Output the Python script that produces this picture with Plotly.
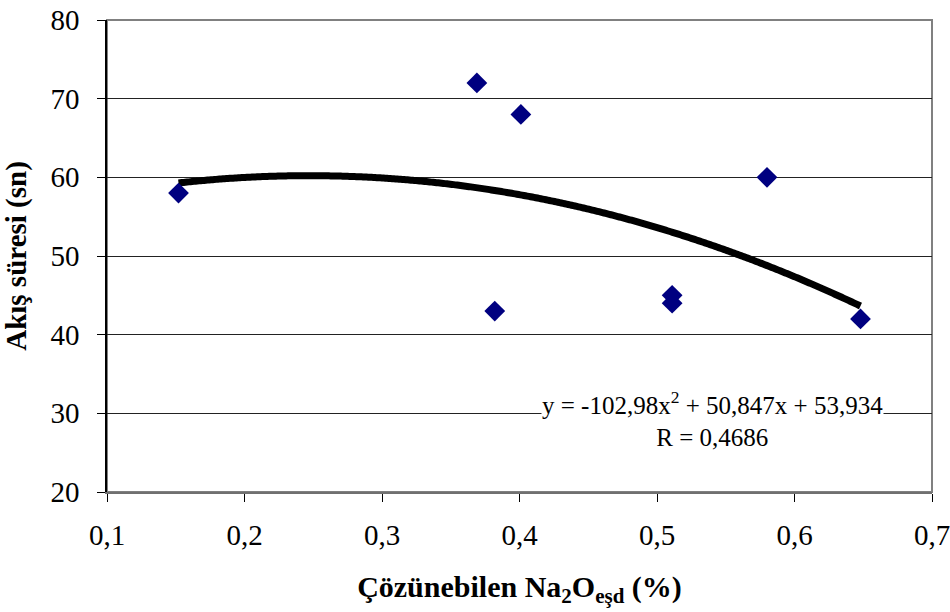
import numpy as np
import plotly.graph_objects as go

# Measured samples: soluble Na2O equivalent (%) vs. flow time (s)
na2o_esd = [0.152, 0.369, 0.401, 0.382, 0.511, 0.511, 0.580, 0.648]
akis_suresi = [58, 72, 68, 43, 45, 44, 60, 42]

# Second-order trendline coefficients and correlation
coef_a, coef_b, coef_c = -102.98, 50.847, 53.934
r_value = "0,4686"

x_ticks = [0.1, 0.2, 0.3, 0.4, 0.5, 0.6, 0.7]
x_tick_text = ["0,1", "0,2", "0,3", "0,4", "0,5", "0,6", "0,7"]
y_ticks = [20, 30, 40, 50, 60, 70, 80]

font_family = "Liberation Serif, Times New Roman, serif"

xs = np.linspace(min(na2o_esd), max(na2o_esd), 400)
ys = coef_a * xs**2 + coef_b * xs + coef_c

fig = go.Figure()
fig.add_trace(go.Scatter(
    x=xs, y=ys, mode="lines",
    line=dict(color="black", width=7, simplify=False),
    hoverinfo="skip", showlegend=False,
))
fig.add_trace(go.Scatter(
    x=na2o_esd, y=akis_suresi, mode="markers",
    marker=dict(symbol="diamond", size=16, color="#000080",
                line=dict(width=0)),
    showlegend=False,
))

fig.add_annotation(
    x=0.5407, y=33.5, xref="x", yref="y",
    text=("y = -102,98x<sup>2</sup> + 50,847x + 53,934<br>R = " + r_value),
    showarrow=False, align="center",
    font=dict(family=font_family, size=25, color="black"),
    bgcolor="white", borderpad=0, yanchor="top",
)

# Plot-area frame
fig.add_shape(type="rect", xref="paper", yref="paper", x0=0, x1=1, y0=0, y1=1,
              line=dict(color="#808080", width=2), layer="below")

fig.update_layout(
    width=950, height=612,
    margin=dict(l=107, r=18, t=20, b=120),
    paper_bgcolor="white", plot_bgcolor="white",
    font=dict(family=font_family, color="black"),
    xaxis=dict(
        range=[0.1, 0.7], tickvals=x_ticks, ticktext=x_tick_text,
        automargin=False, ticklabeloverflow="allow",
        showgrid=False, zeroline=False,
        showline=True, linecolor="#707070", linewidth=2,
        ticks="outside", ticklen=8, tickcolor="black", tickwidth=1,
        tickfont=dict(size=29, family=font_family),
        ticklabelstandoff=8,
        title=dict(text="<b>Çözünebilen Na<sub>2</sub>O<sub>eşd</sub> (%)</b>",
                   font=dict(size=30, family=font_family), standoff=26),
    ),
    yaxis=dict(
        range=[20, 80], tickvals=y_ticks,
        automargin=False, ticklabeloverflow="allow",
        showgrid=True, gridcolor="#222222", gridwidth=1,
        zeroline=False,
        showline=True, linecolor="black", linewidth=1.5,
        ticks="outside", ticklen=8, tickcolor="black", tickwidth=1,
        tickfont=dict(size=29, family=font_family),
        ticklabelstandoff=12,
        title=dict(text="<b>Akış süresi (sn)</b>",
                   font=dict(size=29, family=font_family), standoff=16),
    ),
)

fig.write_html("out.html")
